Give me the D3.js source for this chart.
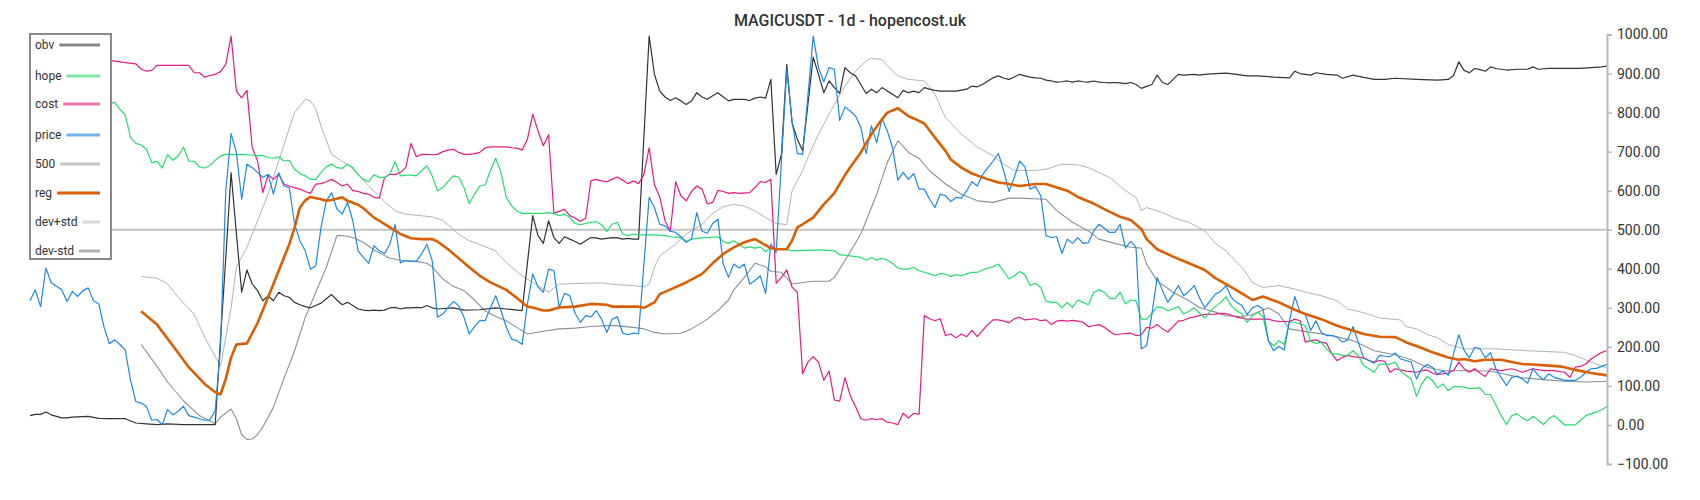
<!DOCTYPE html>
<html>
<head>
<meta charset="utf-8">
<style>
body { margin: 0; background: #fff; }
svg { display: block; font-family: Roboto, "Noto Sans", sans-serif; }
</style>
</head>
<body>
<div id="chart"></div>

<script src="https://cdn.jsdelivr.net/npm/d3@7"></script>
<script>

var title = "MAGICUSDT - 1d - hopencost.uk"
var yTicks = [-100, 0, 100, 200, 300, 400, 500, 600, 700, 800, 900, 1000]
var level = 500
var nDays = 299

// price: one value per day
var price = [
  318, 346, 303, 402, 365, 355, 346, 316, 342, 329,
  344, 351, 318, 310, 250, 208, 218, 206, 192, 114,
  60, 56, 47, 12, 14, 1, 40, 26, 35, 48,
  24, 20, 16, 12, 13, 37, 200, 600, 746, 698,
  578, 668, 659, 647, 634, 642, 591, 646, 612, 608,
  514, 472, 446, 399, 408, 506, 574, 595, 553, 540,
  570, 523, 446, 429, 414, 459, 446, 439, 463, 513,
  415, 421, 419, 419, 438, 463, 421, 276, 284, 301,
  316, 306, 276, 233, 252, 267, 267, 300, 331, 293,
  250, 220, 216, 206, 310, 387, 353, 340, 399, 395,
  301, 337, 331, 286, 263, 280, 277, 293, 271, 237,
  271, 277, 235, 231, 235, 233, 410, 583, 557, 514,
  510, 496, 493, 482, 468, 476, 544, 496, 491, 516,
  527, 412, 378, 412, 402, 412, 361, 370, 382, 337,
  463, 442, 676, 911, 779, 695, 693, 843, 996, 915,
  879, 915, 911, 780, 814, 804, 791, 762, 695, 766,
  723, 785, 753, 710, 627, 647, 629, 644, 604, 604,
  578, 557, 591, 587, 572, 583, 581, 600, 623, 612,
  641, 659, 676, 695, 651, 598, 634, 676, 661, 604,
  611, 587, 485, 480, 482, 439, 476, 465, 480, 465,
  467, 497, 514, 504, 493, 493, 514, 453, 470, 455,
  195, 203, 284, 378, 344, 314, 334, 357, 331, 342,
  357, 325, 300, 318, 335, 342, 357, 327, 314, 306,
  283, 300, 306, 297, 216, 190, 201, 192, 267, 329,
  289, 284, 242, 267, 237, 229, 229, 225, 212, 218,
  252, 212, 172, 165, 158, 178, 176, 175, 184, 169,
  165, 161, 118, 144, 155, 148, 129, 139, 127, 182,
  231, 191, 172, 199, 195, 172, 185, 144, 122, 101,
  122, 125, 118, 107, 144, 127, 116, 131, 122, 118,
  114, 114, 114, 122, 135, 144, 145, 150, 155
]

// other series: [day, value]
var obv = [[0,24],[1,27],[2,27],[3,33],[4,26],[5,22],[6,18],[7,18],[8,20],[11,22],[13,17],[15,16],[18,16],[20,5],[22,3],[24,1],[26,3],[29,1],[32,1],[35,1],[36,221],[37,429],[38,646],[39,490],[40,340],[41,397],[42,361],[43,344],[44,318],[45,331],[46,318],[47,340],[48,331],[49,327],[50,314],[51,308],[52,303],[53,300],[54,306],[55,312],[56,323],[57,334],[58,320],[59,308],[60,314],[61,306],[62,297],[63,294],[64,293],[65,294],[66,293],[67,294],[68,300],[69,301],[70,297],[71,300],[72,300],[73,301],[74,300],[75,306],[76,300],[77,297],[80,300],[82,294],[85,295],[88,300],[90,297],[93,293],[94,415],[95,536],[96,485],[97,465],[98,523],[99,480],[100,465],[101,482],[102,476],[103,470],[104,463],[105,472],[106,480],[107,479],[108,476],[109,478],[110,480],[111,479],[112,476],[113,478],[114,476],[115,476],[116,736],[117,996],[118,898],[119,855],[120,840],[121,831],[122,838],[123,830],[124,821],[125,830],[126,851],[127,840],[128,834],[129,843],[130,851],[131,840],[132,830],[133,834],[135,834],[136,831],[137,837],[138,840],[139,837],[140,885],[141,642],[142,693],[143,923],[144,774],[145,732],[146,702],[147,821],[148,942],[149,898],[150,851],[151,881],[152,864],[153,849],[154,915],[155,902],[156,894],[157,872],[158,849],[159,860],[160,851],[161,864],[162,855],[163,847],[164,838],[165,857],[166,851],[167,855],[168,851],[169,864],[170,860],[171,857],[172,855],[175,855],[177,860],[178,868],[179,866],[180,872],[181,881],[182,889],[183,894],[184,888],[185,885],[186,891],[187,898],[188,894],[189,891],[190,889],[191,888],[192,883],[193,881],[194,878],[195,879],[196,881],[197,878],[198,881],[199,879],[200,878],[201,881],[202,878],[203,877],[204,876],[205,877],[206,876],[207,874],[208,877],[209,872],[210,862],[211,867],[212,872],[213,896],[214,877],[215,872],[216,885],[217,898],[218,896],[220,898],[221,896],[222,898],[224,900],[226,901],[228,898],[230,894],[232,894],[235,891],[238,889],[239,906],[240,900],[242,896],[243,902],[245,898],[247,896],[248,888],[250,896],[252,890],[254,885],[256,885],[258,888],[262,885],[266,883],[268,885],[269,895],[270,930],[271,908],[272,902],[273,913],[274,910],[275,906],[276,917],[277,913],[279,909],[281,911],[283,911],[284,917],[285,911],[287,913],[290,913],[293,913],[295,915],[297,917],[298,919]]

var hope = [[15,823],[16,826],[17,808],[18,794],[19,736],[20,721],[21,717],[22,706],[23,672],[24,675],[25,658],[26,693],[27,678],[28,689],[29,712],[30,676],[31,675],[32,661],[33,658],[34,664],[35,678],[36,689],[37,693],[38,693],[39,692],[40,693],[41,692],[43,690],[44,690],[45,685],[46,683],[47,687],[48,676],[49,678],[50,655],[51,644],[52,638],[53,629],[54,629],[55,647],[56,661],[57,668],[58,659],[59,657],[60,668],[61,659],[62,641],[63,629],[64,623],[65,641],[66,634],[67,634],[68,642],[69,675],[70,638],[71,640],[72,640],[73,638],[74,651],[75,664],[76,638],[77,600],[78,608],[79,624],[80,638],[81,635],[82,608],[83,567],[84,591],[85,612],[86,615],[87,651],[88,683],[89,647],[90,583],[91,561],[92,548],[93,542],[97,542],[98,544],[99,542],[100,536],[101,540],[102,531],[103,516],[104,513],[105,516],[106,519],[107,521],[108,513],[109,496],[110,514],[111,519],[112,489],[113,485],[114,489],[115,487],[118,487],[120,485],[121,482],[123,480],[124,470],[125,476],[127,479],[130,482],[131,470],[132,465],[133,472],[134,462],[135,453],[136,456],[137,453],[138,456],[139,444],[140,453],[141,450],[143,450],[144,446],[148,448],[150,448],[152,446],[153,436],[155,433],[157,429],[158,422],[159,429],[160,422],[161,427],[162,422],[163,414],[164,402],[165,399],[166,399],[167,404],[168,395],[169,391],[170,387],[171,382],[172,388],[173,386],[174,380],[175,385],[176,382],[177,387],[178,391],[179,391],[180,397],[181,402],[182,405],[183,412],[184,393],[185,374],[186,382],[187,393],[188,385],[189,357],[190,363],[191,352],[192,317],[193,314],[194,314],[195,300],[196,314],[197,301],[198,320],[199,314],[200,308],[201,340],[202,346],[203,340],[204,325],[205,323],[206,340],[207,310],[208,320],[209,318],[210,271],[211,271],[212,286],[213,303],[214,300],[215,293],[216,297],[217,303],[218,284],[219,291],[220,300],[221,286],[222,274],[223,291],[224,303],[225,314],[226,328],[227,305],[228,293],[229,284],[230,263],[231,280],[232,289],[233,277],[234,216],[235,203],[236,216],[237,206],[238,263],[239,263],[240,259],[241,254],[242,214],[243,209],[244,212],[245,195],[246,182],[247,182],[248,178],[249,179],[250,190],[251,178],[252,152],[253,144],[254,135],[255,156],[257,156],[258,161],[259,138],[260,127],[261,118],[262,73],[263,105],[264,124],[265,114],[266,95],[267,105],[268,88],[269,98],[270,98],[271,97],[272,93],[274,95],[275,78],[276,78],[277,51],[278,24],[279,1],[280,24],[281,29],[282,18],[283,11],[284,22],[285,12],[286,1],[287,16],[288,24],[289,12],[290,0],[292,0],[293,12],[294,24],[295,29],[296,33],[297,39],[298,47]]

var cost = [[15,934],[16,932],[18,928],[20,925],[21,911],[22,906],[23,908],[24,921],[30,921],[31,902],[32,902],[33,891],[34,895],[35,898],[36,905],[37,924],[38,996],[39,855],[40,838],[41,857],[42,710],[43,676],[44,595],[45,641],[46,629],[47,642],[48,617],[49,612],[50,608],[51,604],[52,598],[53,593],[54,617],[55,618],[56,623],[57,629],[58,621],[59,612],[60,617],[61,600],[62,598],[63,593],[64,591],[65,583],[66,581],[67,634],[68,642],[69,641],[70,647],[71,659],[72,721],[73,687],[74,693],[75,693],[76,692],[77,693],[78,700],[79,704],[80,706],[81,698],[82,693],[83,693],[84,695],[85,698],[86,710],[87,712],[90,712],[91,710],[92,709],[93,704],[94,732],[95,796],[96,753],[97,715],[98,743],[99,542],[100,547],[101,552],[102,536],[103,530],[104,521],[105,530],[106,625],[107,629],[108,625],[109,623],[110,629],[111,635],[112,627],[113,618],[114,625],[115,618],[116,641],[117,710],[118,615],[119,584],[120,523],[121,496],[122,623],[123,587],[124,574],[125,598],[126,612],[127,604],[128,566],[129,570],[130,601],[131,598],[132,593],[133,595],[134,593],[136,595],[137,608],[138,623],[139,621],[140,629],[141,363],[142,378],[143,397],[144,353],[145,340],[146,131],[147,161],[148,175],[149,161],[150,114],[151,138],[152,64],[153,61],[154,121],[155,75],[156,47],[157,16],[158,12],[159,16],[160,14],[161,16],[162,7],[163,5],[164,1],[165,30],[166,18],[167,30],[168,27],[169,280],[170,272],[171,267],[172,272],[173,229],[174,233],[175,223],[176,233],[177,226],[178,242],[179,226],[180,242],[181,257],[182,269],[183,269],[184,266],[185,262],[186,272],[187,276],[188,269],[190,272],[191,267],[192,269],[193,257],[194,266],[195,268],[196,266],[197,268],[198,266],[199,263],[200,252],[201,254],[202,257],[203,250],[204,240],[205,231],[206,233],[208,235],[209,229],[210,231],[211,250],[212,248],[213,257],[214,246],[215,238],[216,252],[217,266],[218,268],[219,274],[220,277],[221,280],[222,283],[224,284],[225,286],[226,285],[227,281],[228,276],[230,271],[234,271],[235,267],[236,265],[238,265],[239,271],[240,267],[241,212],[242,216],[243,218],[244,212],[245,209],[246,182],[247,165],[248,173],[249,178],[250,175],[252,172],[253,165],[254,161],[255,165],[256,163],[257,135],[258,144],[259,141],[260,138],[262,135],[263,139],[264,141],[265,133],[266,129],[268,133],[269,139],[270,161],[271,144],[272,135],[273,144],[274,133],[275,124],[276,144],[278,139],[280,144],[282,135],[284,144],[286,139],[288,139],[290,135],[291,122],[292,148],[293,150],[294,156],[295,169],[296,178],[297,186],[298,190]]

var reg = [[21,291],[24,257],[27,203],[30,148],[33,105],[35,84],[36,78],[37,118],[38,173],[39,206],[41,209],[43,261],[45,327],[47,395],[49,463],[50,506],[51,557],[52,575],[53,584],[55,578],[56,574],[57,576],[59,583],[60,574],[62,564],[63,555],[65,531],[66,523],[68,506],[70,489],[72,478],[74,476],[76,476],[77,470],[79,450],[83,404],[85,382],[87,365],[90,346],[92,325],[94,303],[95,301],[97,293],[98,293],[100,301],[103,303],[106,310],[109,308],[110,303],[115,303],[116,300],[118,314],[119,335],[122,353],[124,365],[127,387],[129,414],[131,438],[133,455],[135,468],[137,476],[138,468],[140,453],[141,450],[143,450],[144,472],[145,506],[146,514],[148,531],[150,565],[152,594],[154,640],[155,660],[157,698],[159,745],[161,783],[162,800],[164,811],[166,791],[167,785],[169,772],[171,736],[173,702],[174,680],[176,659],[178,644],[181,629],[183,621],[185,617],[187,612],[190,617],[192,617],[194,608],[196,600],[198,584],[201,567],[203,553],[206,533],[208,525],[210,502],[211,476],[213,450],[216,431],[219,414],[222,397],[224,376],[227,353],[229,337],[231,320],[233,329],[236,314],[239,295],[241,284],[244,271],[247,254],[249,246],[252,233],[255,226],[258,225],[260,212],[263,197],[265,186],[268,173],[270,167],[271,169],[273,163],[275,167],[278,167],[280,161],[282,156],[284,155],[287,152],[289,150],[290,148],[292,141],[295,133],[298,127]]

var devUp = [[21,380],[24,376],[26,361],[28,327],[31,284],[33,225],[36,150],[38,300],[39,404],[41,455],[43,523],[45,591],[47,676],[49,760],[50,800],[52,834],[53,830],[54,810],[55,765],[57,693],[59,675],[60,668],[62,642],[64,612],[67,572],[69,548],[71,540],[73,537],[76,533],[78,524],[81,489],[83,472],[85,462],[88,446],[89,429],[91,404],[93,382],[95,365],[97,348],[98,340],[100,361],[101,361],[105,363],[108,364],[111,359],[114,357],[116,354],[117,361],[118,404],[119,433],[122,463],[124,489],[127,514],[129,542],[131,559],[133,565],[135,561],[137,548],[139,531],[141,516],[143,513],[144,600],[146,651],[147,685],[149,745],[152,821],[154,868],[156,906],[158,932],[159,939],[161,936],[162,919],[164,894],[166,885],[169,881],[171,847],[173,787],[176,745],[179,712],[182,689],[184,668],[186,652],[190,652],[192,655],[195,668],[198,666],[200,659],[204,634],[207,600],[209,583],[210,549],[211,557],[214,544],[216,531],[219,519],[222,497],[224,465],[226,446],[227,431],[229,404],[231,365],[233,352],[236,357],[239,348],[242,337],[244,331],[247,318],[249,297],[251,291],[253,283],[255,274],[259,269],[260,252],[262,246],[264,232],[266,223],[268,206],[271,195],[277,195],[283,190],[290,186],[292,178],[295,161],[298,145]]

var devDn = [[21,206],[24,150],[26,110],[29,62],[32,24],[35,3],[36,20],[38,41],[39,16],[40,-25],[41,-37],[42,-36],[43,-25],[44,-5],[46,45],[48,120],[50,190],[52,275],[54,340],[56,404],[58,485],[59,485],[61,480],[63,468],[65,448],[68,427],[70,422],[73,419],[75,414],[76,405],[78,374],[80,355],[82,344],[84,320],[86,292],[88,278],[90,267],[92,250],[94,233],[97,240],[100,246],[103,248],[106,252],[110,255],[114,250],[116,246],[118,237],[120,233],[123,235],[125,246],[128,271],[130,293],[132,320],[133,346],[135,378],[137,414],[139,405],[140,393],[142,391],[144,361],[146,365],[148,368],[151,368],[152,378],[154,421],[157,489],[160,591],[162,672],[164,728],[166,698],[168,683],[170,651],[173,617],[176,591],[179,574],[182,570],[185,581],[187,581],[192,578],[194,549],[197,519],[200,497],[202,476],[205,465],[208,455],[210,453],[211,412],[213,369],[216,340],[219,318],[221,301],[224,289],[226,280],[229,277],[231,283],[234,300],[236,284],[238,246],[242,237],[246,229],[250,216],[254,190],[258,180],[261,167],[264,148],[267,139],[272,139],[276,138],[279,129],[282,121],[286,116],[290,112],[294,110],[298,112]]

var legendNames = ["obv", "hope", "cost", "price", "500", "reg", "dev+std", "dev-std"]

var width = 1700, height = 500

var svg = d3.select("#chart").append("svg")
    .attr("width", width)
    .attr("height", height)

var x = d3.scaleLinear().domain([0, nDays - 1]).range([30, 1607])
var y = d3.scaleLinear().domain([-100, 1000]).range([464, 34.5])

var line = d3.line()
    .x(d => x(d[0]))
    .y(d => y(d[1]))

// title
svg.append("text")
    .attr("x", 850)
    .attr("y", 26)
    .attr("text-anchor", "middle")
    .style("font-size", "16px")
    .style("font-weight", 500)
    .style("fill", "#333")
    .text(title)

// 500 line
svg.append("path")
    .datum([[0, level], [nDays - 1, level]])
    .attr("d", line)
    .attr("fill", "none")
    .attr("stroke", "#c4c4c4")
    .attr("stroke-width", 2)

var series = [
  {data: devUp, color: "#abb5bc", w: 1},
  {data: devDn, color: "#88929a", w: 1.1},
  {data: obv, color: "#333333", w: 1.2},
  {data: cost, color: "#e8197f", w: 1.2},
  {data: hope, color: "#27dc6e", w: 1.2},
  {data: price.map((v, i) => [i, v]), color: "#1e88e5", w: 1.2},
  {data: reg, color: "#d95f02", w: 2.6}
]

svg.append("g").selectAll("path")
    .data(series)
    .enter()
    .append("path")
    .attr("d", d => line(d.data))
    .attr("fill", "none")
    .attr("stroke", d => d.color)
    .attr("stroke-width", d => d.w)
    .attr("stroke-linejoin", "round")

// right axis
var axis = svg.append("g")
    .attr("transform", "translate(1607,0)")
    .call(d3.axisRight(y).tickValues(yTicks).tickSize(5).tickPadding(5).tickFormat(d3.format(".2f")))

axis.select(".domain").attr("stroke", "#b0bcc3").attr("stroke-width", 2)
axis.selectAll(".tick line").attr("stroke", "#b0bcc3").attr("stroke-width", 1.5)
axis.selectAll(".tick text")
    .style("font-size", "14px")
    .style("font-family", "Roboto, sans-serif")
    .attr("fill", "#333")

// legend
var legendColors = ["#888888", "#7fe7a8", "#ec74b2", "#74b3ee", "#c4c4c4", "#d95f02", "#d3d9dd", "#a9b1b7"]
var legendY = [45, 76, 104, 135, 164, 193, 222, 251]

var legend = svg.append("g")
legend.append("rect")
    .attr("x", 30).attr("y", 34)
    .attr("width", 81).attr("height", 225)
    .attr("fill", "#fff")
    .attr("stroke", "#888")
    .attr("stroke-width", 2)

legendNames.forEach(function(name, i) {
  var t = legend.append("text")
      .attr("x", 35)
      .attr("y", legendY[i])
      .attr("dy", "0.35em")
      .style("font-size", "12px")
      .style("fill", "#333")
      .text(name)
  var tw = t.node().getComputedTextLength()
  legend.append("line")
      .attr("x1", 35 + tw + 5).attr("x2", 100)
      .attr("y1", legendY[i]).attr("y2", legendY[i])
      .attr("stroke", legendColors[i])
      .attr("stroke-width", 3)
})

</script>
</body>
</html>
